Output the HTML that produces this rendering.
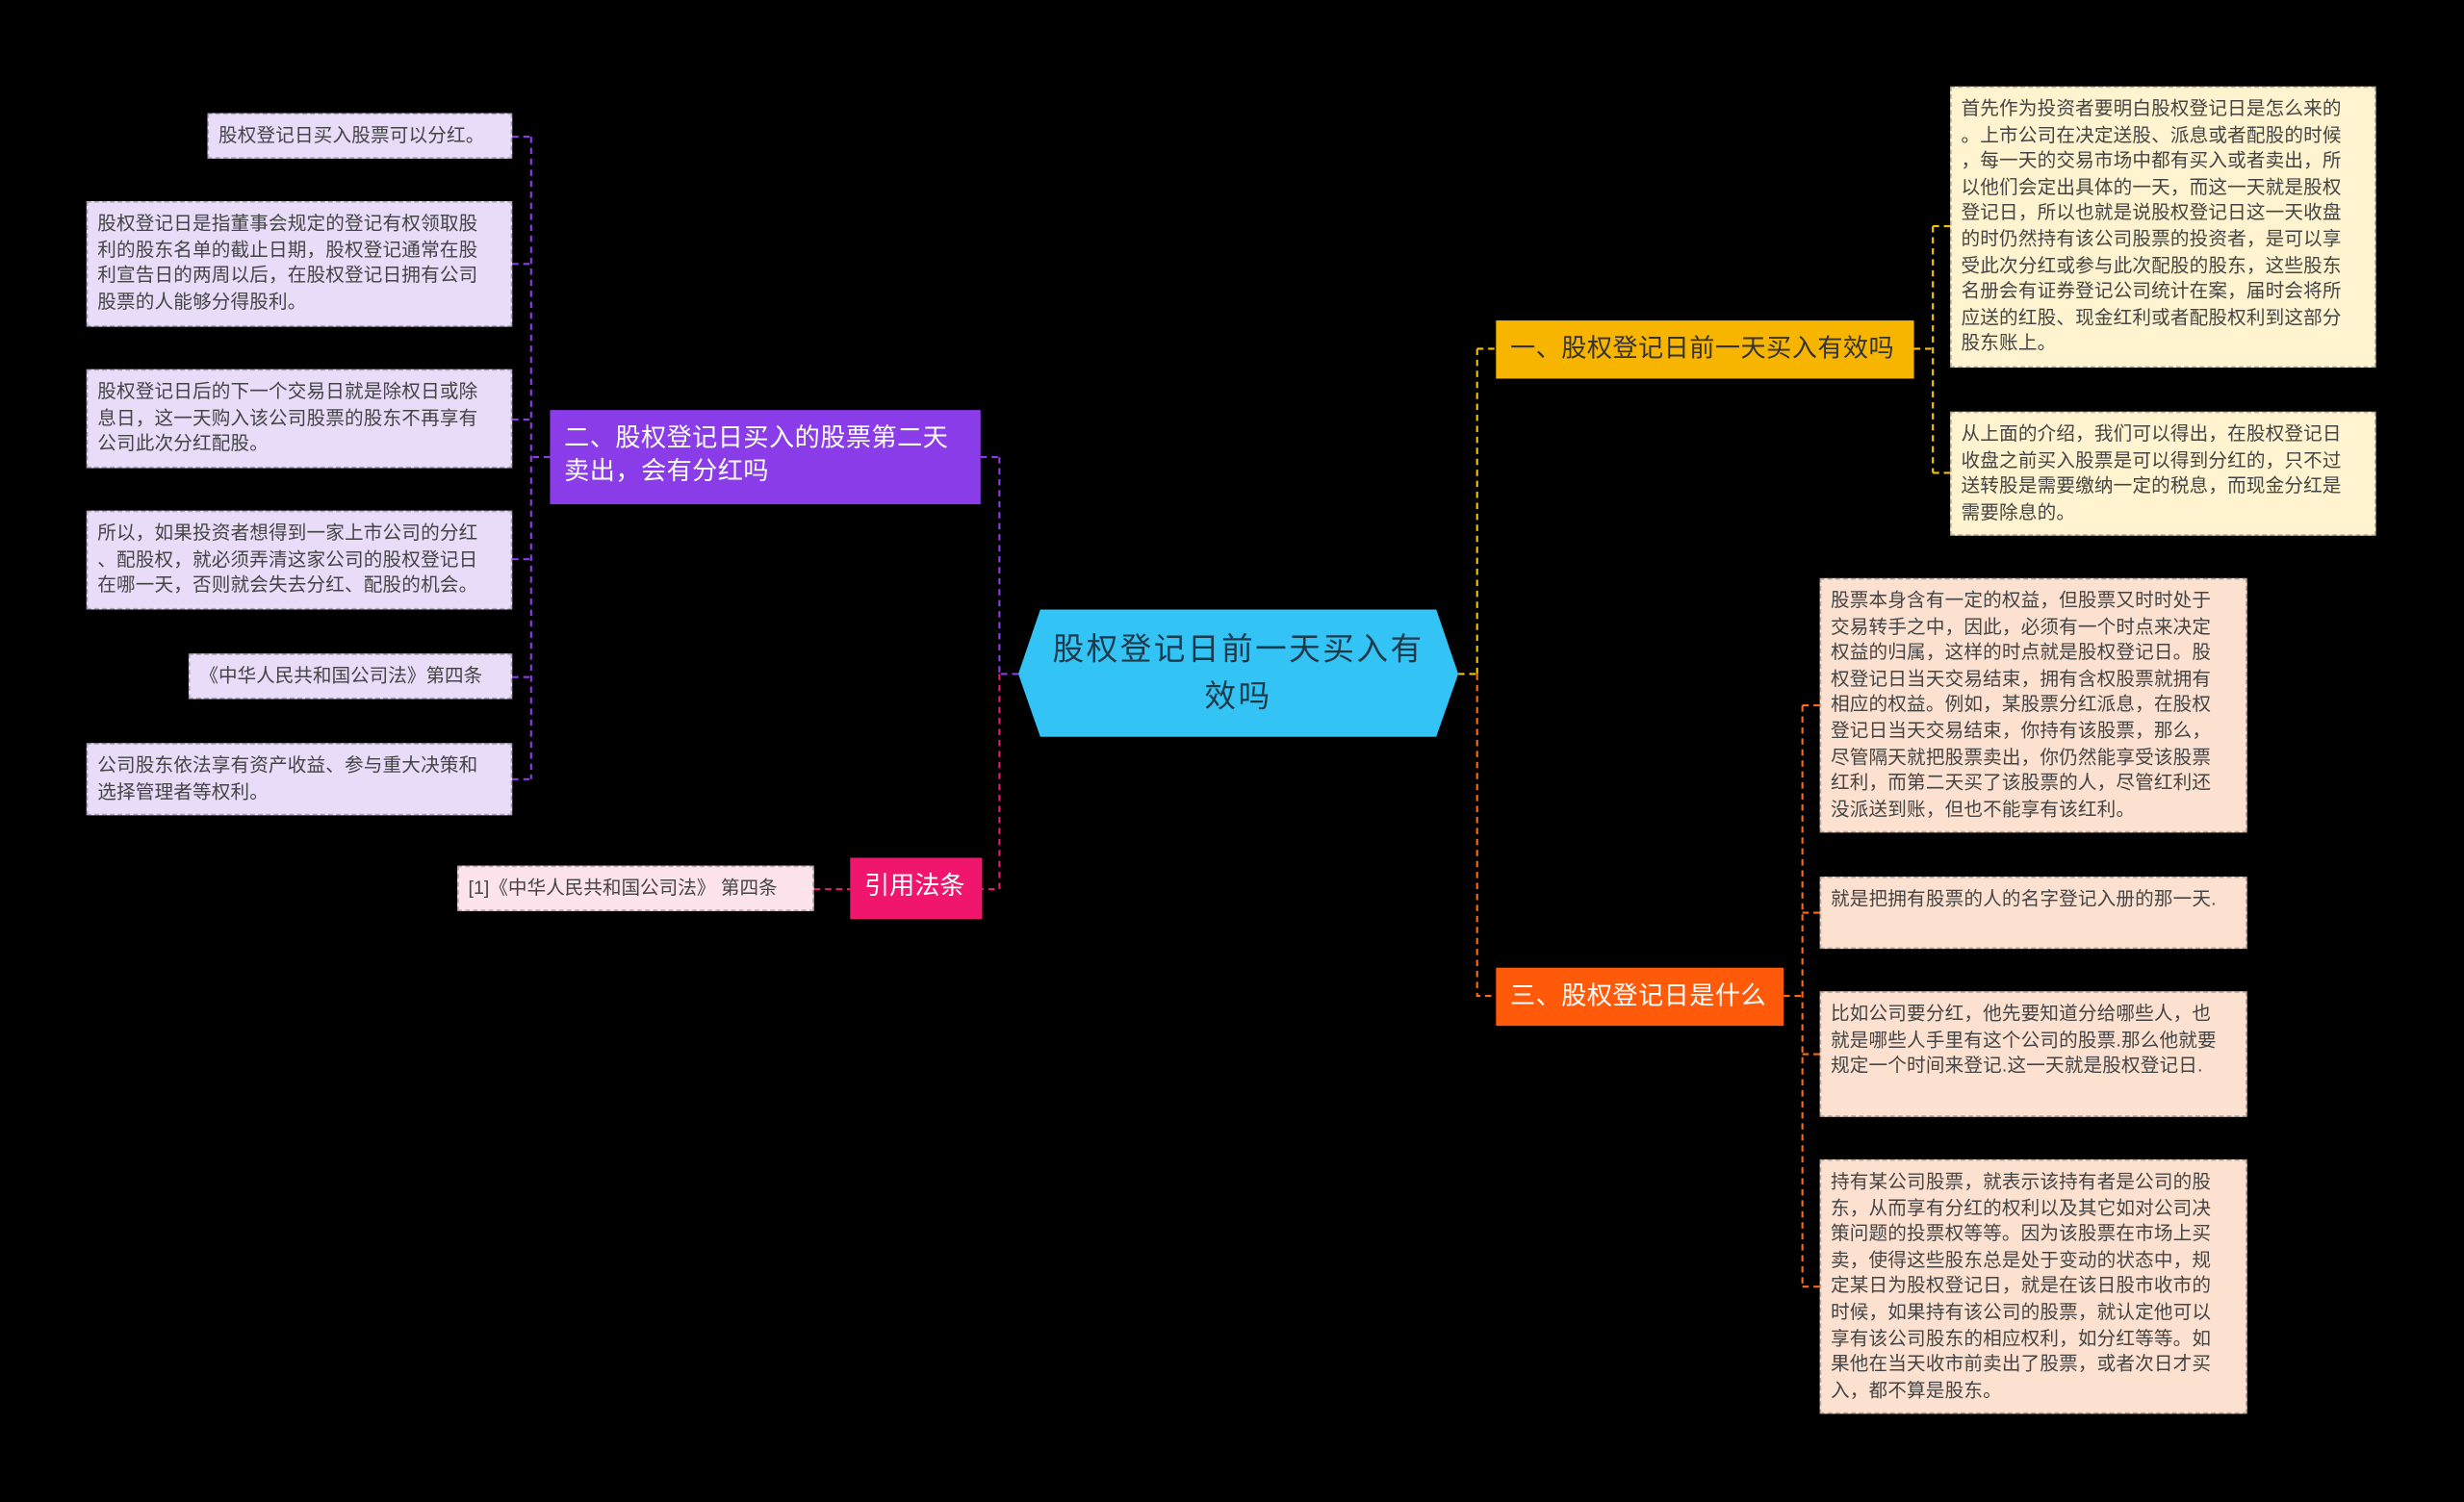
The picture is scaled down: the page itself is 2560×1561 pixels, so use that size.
<!DOCTYPE html>
<html><head><meta charset="utf-8"><style>
html,body{margin:0;padding:0;background:#000;width:2560px;height:1561px;overflow:hidden}
#w{position:absolute;left:0;top:0;width:1568px;height:956px;transform:scale(1.63265);transform-origin:0 0;font-family:"Liberation Sans","Noto Sans CJK SC",sans-serif}
.b{position:absolute;box-sizing:border-box}
.l{font-size:12px;line-height:16.6px;letter-spacing:0.1px;line-break:anywhere;color:#444;padding:5px 10px 5px 6px;border:1px dashed rgba(0,0,0,.25)}
.y{background:#fff4cf}.p{background:#fde1d0}.v{background:#e9dcf9}.k{background:#fde3ec}
.m{font-size:16px;line-height:21px;padding:8px 9px;letter-spacing:0.3px}
svg{position:absolute;left:0;top:0}
</style></head><body><div id="w">
<svg width="1568" height="956" fill="none" stroke-width="1.3" stroke-dasharray="4,3">
<path d="M648 429H636M636 291V429" stroke="#8a3ce8"/>
<path d="M636 429V566H625" stroke="#e8186e"/>
<path d="M624 291H636" stroke="#8a3ce8"/>
<path d="M350 291H338M338 87V496M326 87H338M326 168H338M326 267H338M326 356H338M326 431H338M326 496H338" stroke="#8a3ce8"/>
<path d="M518 566H541" stroke="#e8186e"/>
<path d="M928 429H940M940 222V429M940 222H952" stroke="#f5c400"/>
<path d="M940 429V634H952" stroke="#ff6a10"/>
<path d="M1218 222H1230M1230 144V301M1230 144H1241M1230 301H1241" stroke="#f5c400"/>
<path d="M1135 634H1147M1147 449V819M1147 449H1158M1147 581H1158M1147 671H1158M1147 819H1158" stroke="#ff6a10"/>
</svg>
<svg width="1568" height="956"><polygon points="662,388 914,388 928,429 914,469 662,469 648,429" fill="#33c3f5"/></svg>
<div class="b" style="left:648px;top:388px;width:280px;height:81px;display:flex;align-items:center;justify-content:center;text-align:center;font-size:20px;line-height:30px;letter-spacing:1.5px;color:#1d3a4a;padding:0 16px">股权登记日前一天买入有效吗</div>

<div class="b m" style="left:952px;top:204px;width:266px;height:37px;background:#f7b500;color:#333;white-space:nowrap">一、股权登记日前一天买入有效吗</div>
<div class="b l y" style="left:1241px;top:55px;width:271px;height:179px">首先作为投资者要明白股权登记日是怎么来的。上市公司在决定送股、派息或者配股的时候，每一天的交易市场中都有买入或者卖出，所以他们会定出具体的一天，而这一天就是股权登记日，所以也就是说股权登记日这一天收盘的时仍然持有该公司股票的投资者，是可以享受此次分红或参与此次配股的股东，这些股东名册会有证券登记公司统计在案，届时会将所应送的红股、现金红利或者配股权利到这部分股东账上。</div>
<div class="b l y" style="left:1241px;top:262px;width:271px;height:79px">从上面的介绍，我们可以得出，在股权登记日收盘之前买入股票是可以得到分红的，只不过送转股是需要缴纳一定的税息，而现金分红是需要除息的。</div>

<div class="b m" style="left:952px;top:616px;width:183px;height:37px;background:#ff5a0a;color:#fff;white-space:nowrap">三、股权登记日是什么</div>
<div class="b l p" style="left:1158px;top:368px;width:272px;height:162px">股票本身含有一定的权益，但股票又时时处于交易转手之中，因此，必须有一个时点来决定权益的归属，这样的时点就是股权登记日。股权登记日当天交易结束，拥有含权股票就拥有相应的权益。例如，某股票分红派息，在股权登记日当天交易结束，你持有该股票，那么，尽管隔天就把股票卖出，你仍然能享受该股票红利，而第二天买了该股票的人，尽管红利还没派送到账，但也不能享有该红利。</div>
<div class="b l p" style="left:1158px;top:558px;width:272px;height:46px">就是把拥有股票的人的名字登记入册的那一天.</div>
<div class="b l p" style="left:1158px;top:631px;width:272px;height:80px">比如公司要分红，他先要知道分给哪些人，也就是哪些人手里有这个公司的股票.那么他就要规定一个时间来登记.这一天就是股权登记日.</div>
<div class="b l p" style="left:1158px;top:738px;width:272px;height:162px">持有某公司股票，就表示该持有者是公司的股东，从而享有分红的权利以及其它如对公司决策问题的投票权等等。因为该股票在市场上买卖，使得这些股东总是处于变动的状态中，规定某日为股权登记日，就是在该日股市收市的时候，如果持有该公司的股票，就认定他可以享有该公司股东的相应权利，如分红等等。如果他在当天收市前卖出了股票，或者次日才买入，都不算是股东。</div>

<div class="b m" style="left:350px;top:261px;width:274px;height:60px;background:#8a3ce8;color:#fff">二、股权登记日买入的股票第二天卖出，会有分红吗</div>
<div class="b l v" style="left:132px;top:72px;width:194px;height:29px">股权登记日买入股票可以分红。</div>
<div class="b l v" style="left:55px;top:128px;width:271px;height:80px">股权登记日是指董事会规定的登记有权领取股利的股东名单的截止日期，股权登记通常在股利宣告日的两周以后，在股权登记日拥有公司股票的人能够分得股利。</div>
<div class="b l v" style="left:55px;top:235px;width:271px;height:63px">股权登记日后的下一个交易日就是除权日或除息日，这一天购入该公司股票的股东不再享有公司此次分红配股。</div>
<div class="b l v" style="left:55px;top:325px;width:271px;height:63px">所以，如果投资者想得到一家上市公司的分红、配股权，就必须弄清这家公司的股权登记日在哪一天，否则就会失去分红、配股的机会。</div>
<div class="b l v" style="left:120px;top:416px;width:206px;height:29px;letter-spacing:0">《中华人民共和国公司法》第四条</div>
<div class="b l v" style="left:55px;top:473px;width:271px;height:46px">公司股东依法享有资产收益、参与重大决策和选择管理者等权利。</div>

<div class="b m" style="left:541px;top:546px;width:84px;height:39px;background:#f0166e;color:#fff;letter-spacing:0">引用法条</div>
<div class="b l k" style="left:291px;top:551px;width:227px;height:29px;letter-spacing:0">[1]《中华人民共和国公司法》 第四条</div>
</div></body></html>
